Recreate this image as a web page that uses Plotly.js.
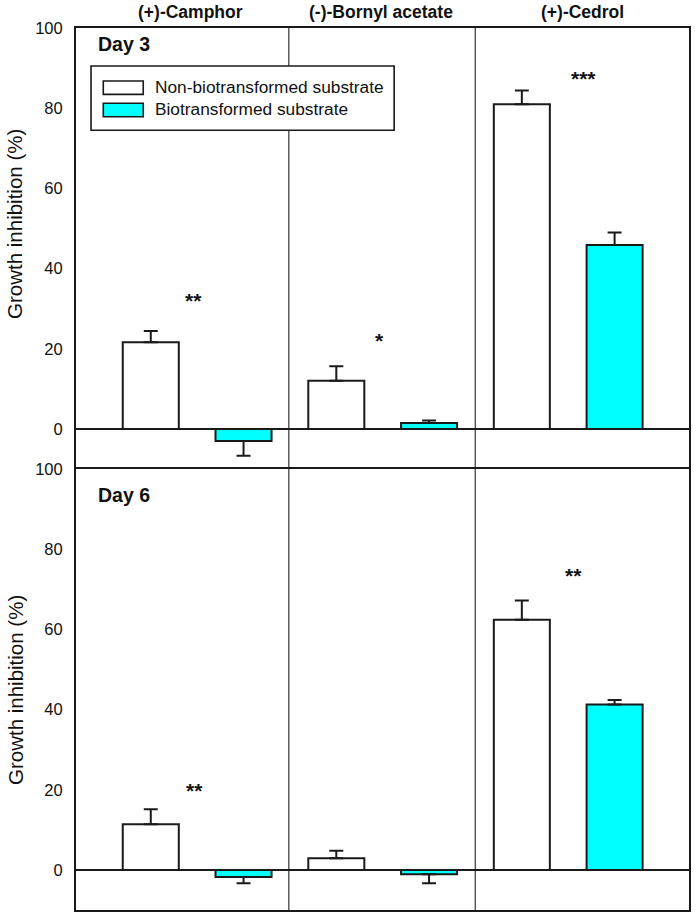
<!DOCTYPE html>
<html>
<head>
<meta charset="utf-8">
<script src="https://cdn.plot.ly/plotly-3.0.1.min.js"></script>
<style>
  html, body { margin: 0; padding: 0; background: #fff; }
  #chart { width: 697px; height: 917px; }
</style>
</head>
<body>
<div id="chart"></div>
<script>
// ---- data ----
const categories = ['(+)-Camphor', '(-)-Bornyl acetate', '(+)-Cedrol'];
const seriesNames = ['Non-biotransformed substrate', 'Biotransformed substrate'];

const day3NonBio = [21.6, 12.0, 81.0];
const day3NonBioErr = [2.8, 3.6, 3.4];
const day3Bio = [-3.0, 1.5, 45.9];
const day3BioErr = [3.7, 0.6, 3.1];

const day6NonBio = [11.4, 2.9, 62.4];
const day6NonBioErr = [3.7, 1.85, 4.8];
const day6Bio = [-1.75, -1.1, 41.25];
const day6BioErr = [1.55, 2.2, 1.15];

const day3Stars = ['**', '*', '***'];
const day3StarY = [33, 22.9, 88.3];
const day6Stars = ['**', '', '**'];
const day6StarY = [20.8, 0, 74.4];

const yTicks = [0, 20, 40, 60, 80, 100];
const panelLabels = ['Day 3', 'Day 6'];
const yTitle = 'Growth inhibition (%)';

// ---- helpers ----
const xIdx = categories.map((_, i) => i);
const LINE = '#1a1a1a';
const BAR_W = 0.302;

function errUpDown(vals, errs) {
  return {
    type: 'data', symmetric: false,
    array: vals.map((v, i) => v >= 0 ? errs[i] : 0),
    arrayminus: vals.map((v, i) => v < 0 ? errs[i] : 0),
    color: LINE, thickness: 2, width: 7
  };
}

function barTrace(vals, errs, fill, offset, xa, ya, name) {
  return {
    type: 'bar', x: xIdx, y: vals, name: name,
    xaxis: xa, yaxis: ya,
    width: BAR_W, offset: offset,
    marker: { color: fill, line: { color: LINE, width: 2 } },
    error_y: errUpDown(vals, errs),
    showlegend: false, hoverinfo: 'skip'
  };
}

const traces = [
  barTrace(day3NonBio, day3NonBioErr, '#ffffff', -0.249 - BAR_W / 2, 'x', 'y', seriesNames[0]),
  barTrace(day3Bio, day3BioErr, '#00ffff', 0.251 - BAR_W / 2, 'x', 'y', seriesNames[1]),
  barTrace(day6NonBio, day6NonBioErr, '#ffffff', -0.249 - BAR_W / 2, 'x2', 'y2', seriesNames[0]),
  barTrace(day6Bio, day6BioErr, '#00ffff', 0.251 - BAR_W / 2, 'x2', 'y2', seriesNames[1])
];

const FONT = 'Liberation Sans, Arial, sans-serif';
const XRANGE = [-0.652, 2.652];

const xaxisBase = {
  range: XRANGE, showticklabels: false, ticks: '', showgrid: false, zeroline: false,
  showline: true, linecolor: LINE, linewidth: 2, fixedrange: true
};
const yaxisBase = {
  range: [-10, 100], tickvals: yTicks, ticks: '', showgrid: false,
  zeroline: true, zerolinecolor: LINE, zerolinewidth: 1.5,
  showline: true, mirror: true, linecolor: LINE, linewidth: 2,
  tickfont: { family: FONT, size: 16.5, color: '#111' }, ticklabelstandoff: 8,
  fixedrange: true
};

const annotations = [];
// group labels on top
const groupShift = [-6, -1.5, 14];
categories.forEach((c, i) => {
  annotations.push({
    text: '<b>' + c + '</b>', x: i, xref: 'x', y: 1.0178, yref: 'paper',
    xshift: groupShift[i], showarrow: false, xanchor: 'center', yanchor: 'middle',
    font: { family: FONT, size: 17.5, color: '#111' }
  });
});
// significance stars
const starShift3 = [-3, -3, 15];
const starShift6 = [-2, 0, 5];
const STAR_FONT = { family: FONT, size: 21, color: '#111' };
day3Stars.forEach((s, i) => {
  if (s) annotations.push({ text: '<b>' + s + '</b>', x: i, xref: 'x', y: day3StarY[i], yref: 'y', xshift: starShift3[i],
    yshift: -3.5, showarrow: false, font: STAR_FONT, yanchor: 'middle' });
});
day6Stars.forEach((s, i) => {
  if (s) annotations.push({ text: '<b>' + s + '</b>', x: i, xref: 'x2', y: day6StarY[i], yref: 'y2', xshift: starShift6[i],
    yshift: -3.5, showarrow: false, font: STAR_FONT, yanchor: 'middle' });
});
// panel labels
annotations.push({ text: '<b>' + panelLabels[0] + '</b>', x: 0.0326, xref: 'paper', y: 0.9815, yref: 'paper',
  xanchor: 'left', yanchor: 'middle', showarrow: false, font: { family: FONT, size: 19.5, color: '#111' } });
annotations.push({ text: '<b>' + panelLabels[1] + '</b>', x: 0.0326, xref: 'paper', y: 0.4705, yref: 'paper',
  xanchor: 'left', yanchor: 'middle', showarrow: false, font: { family: FONT, size: 19.5, color: '#111' } });
// y titles
[0.7778, 0.2494].forEach(yy => {
  annotations.push({ text: yTitle, x: -0.0995, xref: 'paper', y: yy, yref: 'paper', textangle: -90,
    xanchor: 'center', yanchor: 'middle', showarrow: false, font: { family: FONT, size: 20.5, color: '#111' } });
});
// legend texts
annotations.push({ text: seriesNames[0], x: 0.1251, xref: 'paper', y: 0.9328, yref: 'paper',
  xanchor: 'left', yanchor: 'middle', showarrow: false, font: { family: FONT, size: 17.3, color: '#111' } });
annotations.push({ text: seriesNames[1], x: 0.1251, xref: 'paper', y: 0.9085, yref: 'paper',
  xanchor: 'left', yanchor: 'middle', showarrow: false, font: { family: FONT, size: 17.3, color: '#111' } });

const shapes = [
  // group dividers
  { type: 'line', xref: 'x', x0: 0.495, x1: 0.495, yref: 'paper', y0: 0, y1: 1, line: { color: '#444', width: 1.3 }, layer: 'below' },
  { type: 'line', xref: 'x', x0: 1.5, x1: 1.5, yref: 'paper', y0: 0, y1: 1, line: { color: '#444', width: 1.3 }, layer: 'below' },
  // legend box
  { type: 'rect', xref: 'paper', yref: 'paper', x0: 0.0245, x1: 0.519, y0: 0.884, y1: 0.957,
    fillcolor: '#ffffff', line: { color: LINE, width: 1.6 }, layer: 'above' },
  // legend swatches
  { type: 'rect', xref: 'paper', yref: 'paper', x0: 0.0445, x1: 0.1097, y0: 0.9248, y1: 0.9399,
    fillcolor: '#ffffff', line: { color: LINE, width: 1.6 }, layer: 'above' },
  { type: 'rect', xref: 'paper', yref: 'paper', x0: 0.0445, x1: 0.1097, y0: 0.8994, y1: 0.9146,
    fillcolor: '#00ffff', line: { color: LINE, width: 1.6 }, layer: 'above' }
];

const layout = {
  width: 697, height: 917,
  margin: { l: 76, r: 8, t: 28, b: 7 },
  paper_bgcolor: '#ffffff', plot_bgcolor: 'rgba(0,0,0,0)',
  showlegend: false,
  barmode: 'overlay',
  // top panel: only its top border line (the shared middle border comes from the bottom panel)
  xaxis: Object.assign({}, xaxisBase, { anchor: 'y', domain: [0, 1], side: 'top', mirror: false }),
  xaxis2: Object.assign({}, xaxisBase, { anchor: 'y2', domain: [0, 1], mirror: true }),
  yaxis: Object.assign({}, yaxisBase, { anchor: 'x', domain: [0.5, 1] }),
  yaxis2: Object.assign({}, yaxisBase, { anchor: 'x2', domain: [0, 0.5] }),
  annotations: annotations,
  shapes: shapes,
  font: { family: FONT, color: '#111' }
};

Plotly.newPlot('chart', traces, layout, { displayModeBar: false, staticPlot: true });
</script>
</body>
</html>
